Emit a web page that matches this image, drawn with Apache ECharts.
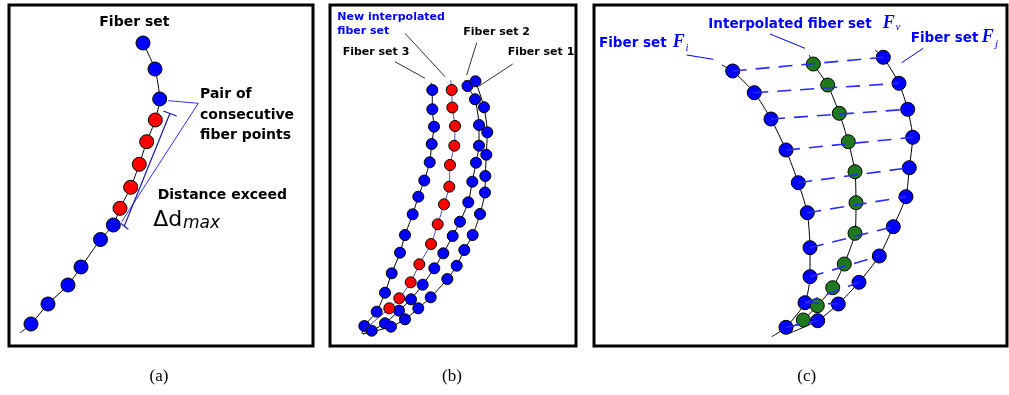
<!DOCTYPE html>
<html>
<head>
<meta charset="utf-8">
<script src="https://cdn.jsdelivr.net/npm/echarts@6/dist/echarts.min.js"></script>
<style>
  html, body { margin: 0; background: #fff; }
  #chart { width: 1009px; height: 395px; }
</style>
</head>
<body>
<div id="chart"></div>
<script>

// (a) one fiber set
const aFiber = [
  [143, 43], [155, 69], [159.7, 99], [155.3, 120], [146.7, 141.7], [139.3, 164.3],
  [130.7, 187.3], [120, 208.3], [113.3, 225], [100.5, 239.5], [81, 267], [68, 285],
  [48, 304], [31, 324]
];
const aPair = [2, 8]; // the two consecutive fiber points, red ones are inserted between
const aTail = [20, 333];
const aPairLine = [[168.3, 100.7], [198.3, 103.3], [121.7, 221.7]];
const aDistLine = [[170, 113.3], [124.3, 226]];
const aDistTicks = [[[163.3, 111], [176.7, 116]], [[120.7, 223.3], [128.3, 229.3]]];

// (b) three fiber sets + the interpolated one
const bSet1 = [
  [475.5, 81.3], [484, 107.2], [487.3, 132.3], [486.3, 154.7], [485.3, 176], [485, 192.5],
  [480, 214], [472.7, 235], [464.3, 250], [456.7, 265.7], [447.3, 279], [430.7, 297.3],
  [418.3, 308.3], [405, 319.3], [391, 326.7]
];
const bSet2 = [
  [467.5, 86], [475, 99.3], [479, 125], [479, 145.7], [476, 162.7], [472.3, 181.7],
  [468.3, 202.3], [460, 221.7], [452.7, 236], [443.3, 253.3], [434.3, 268.3], [422.7, 284.7],
  [411, 299.3], [399, 310.7], [385, 323.3], [371.7, 330.7]
];
const bSet3 = [
  [432.3, 90], [432.3, 109.3], [434, 126.7], [431.7, 144], [429.7, 162.3], [424.3, 180.5],
  [418.3, 196.7], [412.7, 214.3], [405, 235], [400, 252.7], [391.7, 273.3], [385, 292.7],
  [376.7, 311.7], [364.3, 326]
];
const bNew = [
  [451.7, 90], [452.3, 107.5], [455, 126], [454.3, 145.7], [450, 165], [449.3, 186.7],
  [444, 204.3], [437.7, 224.3], [431, 244], [419.3, 264.3], [410.7, 282.3], [399.3, 298.3],
  [389.3, 308.3]
];
const bLeaders = [
  [[395, 61.7], [425, 78.3]],
  [[405, 33.3], [445, 76.7]],
  [[476.7, 42.7], [466.7, 75]],
  [[512.7, 64], [479.3, 86]]
];

// (c) Fi, Fj and the interpolated Fv
const cFi = [
  [732.7, 71], [754.3, 92.7], [771, 119], [786, 150], [798.3, 182.7], [807.3, 212.7],
  [810, 247.7], [810, 276.7], [805, 302.7], [786, 327.3]
];
const cFv = [
  [813.3, 64], [827.7, 85], [839.3, 113.3], [848.3, 141.7], [855, 171.7], [856, 202.7],
  [855, 233.3], [844.3, 264], [832.7, 287.7], [817.3, 305.7], [803.3, 320]
];
const cFj = [
  [883.3, 57.3], [899, 83.3], [907.7, 109.3], [912.7, 137.3], [909.3, 167.7], [906, 196.7],
  [893.3, 226.7], [879.3, 256], [859, 282.3], [838.3, 304], [817.7, 320.7]
];
const cLinks = [[0, 0], [1, 1], [2, 2], [3, 3], [4, 4], [5, 5], [6, 6], [7, 7], [8, 8], [8, 9], [9, 10]];
const cLeaders = [
  [[686.7, 55], [713.3, 59.3]],
  [[770, 34], [805, 48.3]],
  [[923.3, 48.3], [901.7, 62.7]]
];

// panel frames
const panels = [
  { left: 9, top: 5, width: 304, height: 341 },
  { left: 330, top: 5, width: 246, height: 341 },
  { left: 594, top: 5, width: 413, height: 341 }
];

const BLUE = "#0000ff";
const RED = "#ff0000";
const GREEN = "#1f7a1f";

const curve = (gi, data, color = "#000", width = 1) => ({
  type: "line",
  xAxisIndex: gi,
  yAxisIndex: gi,
  data,
  symbol: "none",
  smooth: 0.2,
  silent: true,
  lineStyle: { color, width },
  z: 2
});
const dots = (gi, data, color, size) => ({
  type: "scatter",
  xAxisIndex: gi,
  yAxisIndex: gi,
  data,
  symbolSize: size,
  silent: true,
  itemStyle: { color, borderColor: "#000", borderWidth: 1, opacity: 1 },
  z: 3
});
const segs = (gi, list, color, width = 1, type = "solid", z = 4) => ({
  type: "lines",
  coordinateSystem: "cartesian2d",
  xAxisIndex: gi,
  yAxisIndex: gi,
  polyline: true,
  silent: true,
  data: list.map(coords => ({ coords })),
  lineStyle: { color, width, type, opacity: 1, curveness: 0 },
  z
});
const txt = (text, x, y, font, fill = "#000", align = "left") => ({
  type: "text",
  x,
  y,
  z: 100,
  style: { text, font, fill, align, verticalAlign: "middle", textAlign: align, textVerticalAlign: "middle" }
});

const aRed = aFiber.slice(aPair[0] + 1, aPair[1]);
const aBlue = aFiber.filter((p, i) => i <= aPair[0] || i >= aPair[1]);

const BOLD14 = "bold 14px 'DejaVu Sans'";
const BOLD11 = "bold 11px 'DejaVu Sans'";
const BOLD13 = "bold 13.5px 'DejaVu Sans'";
const SERIF_F = "bold italic 18px 'Liberation Serif'";
const SERIF_SUB = "italic 11px 'Liberation Serif'";
const CAPTION = "17px 'Liberation Serif'";

const option = {
  animation: false,
  backgroundColor: "#fff",
  grid: panels.map(p => ({
    ...p,
    show: true,
    borderColor: "#000",
    borderWidth: 3,
    backgroundColor: "#fff",
    containLabel: false
  })),
  xAxis: panels.map((p, i) => ({
    type: "value",
    gridIndex: i,
    min: p.left,
    max: p.left + p.width,
    show: false
  })),
  yAxis: panels.map((p, i) => ({
    type: "value",
    gridIndex: i,
    min: p.top,
    max: p.top + p.height,
    inverse: true,
    show: false
  })),
  series: [
    // (a)
    curve(0, [...aFiber, aTail]),
    dots(0, aBlue, BLUE, 14),
    dots(0, aRed, RED, 14),
    segs(0, [aPairLine], "#3030ff", 1),
    segs(0, [aDistLine, ...aDistTicks], "#1a1aa8", 1.2),
    // (b)
    curve(1, [[431, 82.7], ...bSet3, [362, 334]]),
    curve(1, [[465, 80], ...bSet2, [363, 334]]),
    curve(1, [[472, 76], ...bSet1, [363, 334]]),
    curve(1, [[450.7, 80], ...bNew, [364, 330]], "#4848c0"),
    dots(1, [...bSet3, ...bSet2, ...bSet1], BLUE, 11),
    dots(1, bNew, RED, 11),
    segs(1, bLeaders, "#333", 1),
    // (c)
    curve(2, [[721.7, 65], ...cFi, [771.7, 336.7]]),
    curve(2, [[809.3, 55], ...cFv, [787, 330]]),
    curve(2, [[875, 50], ...cFj, [790, 333]]),
    dots(2, [...cFi, ...cFj], BLUE, 14),
    dots(2, cFv, GREEN, 14),
    segs(2, cLinks.map(([i, j]) => [cFi[i], cFj[j]]), "#2a2aff", 1.6, [14, 9]),
    segs(2, cLeaders, BLUE, 1)
  ],
  graphic: {
    elements: [
      // (a)
      txt("Fiber set", 99.3, 22.2, BOLD14),
      txt("Pair of", 200, 94.5, BOLD14),
      txt("consecutive", 200, 115, BOLD14),
      txt("fiber points", 200, 135.5, BOLD14),
      txt("Distance exceed", 157.7, 195.5, BOLD14),
      txt("\u0394d", 153.3, 220.3, "22px 'DejaVu Sans'"),
      txt("max", 183, 224, "italic 17px 'DejaVu Sans'"),
      // (b)
      txt("New interpolated", 337.3, 16.7, BOLD11, BLUE),
      txt("fiber set", 337.3, 31, BOLD11, BLUE),
      txt("Fiber set 2", 463.3, 32, BOLD11),
      txt("Fiber set 3", 342.7, 52, BOLD11),
      txt("Fiber set 1", 507.7, 52, BOLD11),
      // (c)
      txt("Interpolated fiber set", 708.3, 24.4, BOLD13, BLUE),
      txt("F", 882.7, 23.5, SERIF_F, BLUE),
      txt("v", 895.5, 27, SERIF_SUB, BLUE),
      txt("Fiber set", 599, 43.4, BOLD13, BLUE),
      txt("F", 672.7, 42.5, SERIF_F, BLUE),
      txt("i", 685.5, 48.5, SERIF_SUB, BLUE),
      txt("Fiber set", 910.7, 38.4, BOLD13, BLUE),
      txt("F", 981.7, 37.5, SERIF_F, BLUE),
      txt("j", 995, 44.5, SERIF_SUB, BLUE),
      // captions
      txt("(a)", 159, 377, CAPTION, "#000", "center"),
      txt("(b)", 452, 377, CAPTION, "#000", "center"),
      txt("(c)", 806.7, 377, CAPTION, "#000", "center")
    ]
  }
};

const chart = echarts.init(document.getElementById("chart"));
chart.setOption(option);
</script>
</body>
</html>
